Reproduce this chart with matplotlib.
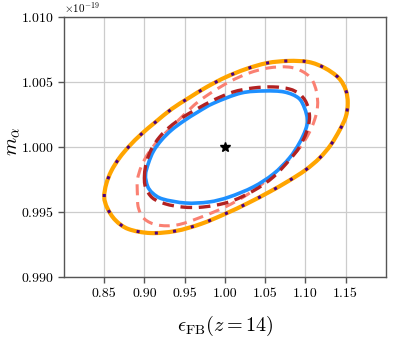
import numpy as np
import matplotlib
matplotlib.use("Agg")
import matplotlib.pyplot as plt
from matplotlib.path import Path
from matplotlib.patches import PathPatch

plt.rcParams['font.family'] = 'serif'
plt.rcParams['font.serif'] = ['cmr10', 'DejaVu Serif']
plt.rcParams['mathtext.fontset'] = 'cm'
plt.rcParams['axes.formatter.use_mathtext'] = True
plt.rcParams['axes.unicode_minus'] = False

SCALE = 1e-19

# Contour traces (x = epsilon_FB, y = m_alpha in units of 1e-19)
outer_x = [0.85, 0.8525, 0.85875, 0.86875, 0.88125, 0.89625, 0.91375, 0.93375, 0.955, 0.9775,
           1.00125, 1.02625, 1.0525, 1.07875, 1.10375, 1.12375, 1.14125, 1.15, 1.1525, 1.15,
           1.1425, 1.13125, 1.1175, 1.1, 1.07875, 1.055, 1.02875, 1.0, 0.97, 0.93875,
           0.9075, 0.88, 0.86375, 0.85375]
outer_y = [0.99615, 0.99715, 0.99815, 0.99915, 1.00008, 1.001, 1.00192, 1.00292, 1.00377, 1.00462,
           1.00538, 1.006, 1.00646, 1.00662, 1.00654, 1.00608, 1.00531, 1.00438, 1.00338, 1.00231,
           1.00131, 1.00015, 0.99915, 0.99823, 0.99738, 0.99654, 0.99569, 0.99485, 0.99408, 0.99354,
           0.99338, 0.99369, 0.99438, 0.99531]

salmon_x = [0.89125, 0.89125, 0.89625, 0.905, 0.9175, 0.9325, 0.94875, 0.96625, 0.98625, 1.0075,
            1.03, 1.05375, 1.07875, 1.095, 1.1075, 1.11375, 1.115, 1.11125, 1.10375, 1.0925,
            1.075, 1.05375, 1.02875, 1.0, 0.9675, 0.94, 0.91625, 0.9, 0.8925]
salmon_y = [0.99631, 0.99746, 0.99854, 0.99954, 1.00054, 1.00146, 1.00246, 1.00346, 1.00431, 1.00508,
            1.00569, 1.00608, 1.00615, 1.00585, 1.00523, 1.00423, 1.00315, 1.00208, 1.001, 0.99992,
            0.99877, 0.99754, 0.99638, 0.99538, 0.99454, 0.994, 0.994, 0.99446, 0.99531]

darkred_x = [0.9, 0.90125, 0.91, 0.92625, 0.9475, 0.9725, 1.005, 1.035, 1.06, 1.08,
             1.0925, 1.10125, 1.105, 1.10125, 1.0925, 1.08, 1.06, 1.035, 1.01, 0.98625,
             0.965, 0.94625, 0.93125, 0.91875, 0.90875, 0.9025]
darkred_y = [0.99785, 0.99692, 0.99608, 0.99562, 0.99538, 0.99538, 0.99577, 0.99662, 0.99769, 0.999,
             1.0, 1.00115, 1.00231, 1.00338, 1.00408, 1.00446, 1.00462, 1.00454, 1.00423, 1.00362,
             1.00292, 1.00223, 1.00154, 1.00077, 0.99985, 0.99885]

blue_x = [0.90125, 0.90375, 0.91, 0.9225, 0.95125, 0.98, 1.005, 1.035, 1.06, 1.08,
          1.0925, 1.1, 1.1025, 1.09875, 1.09125, 1.07375, 1.04875, 1.02, 0.98625, 0.96625,
          0.94875, 0.93375, 0.92125, 0.91125, 0.905]
blue_y = [0.99785, 0.997, 0.99646, 0.996, 0.99569, 0.99577, 0.99615, 0.99692, 0.99792, 0.99915,
          1.00031, 1.00131, 1.00208, 1.003, 1.00377, 1.00423, 1.00431, 1.00415, 1.00338, 1.00269,
          1.002, 1.00131, 1.00054, 0.99969, 0.99877]

fiducial_x = [1.0]
fiducial_y = [1.0]

x_ticks = [0.85, 0.90, 0.95, 1.00, 1.05, 1.10, 1.15]
y_ticks = [0.990, 0.995, 1.000, 1.005, 1.010]


def smooth_closed_path(xs, ys):
    """Closed path through the traced points, drawn with Bezier segments (Catmull-Rom tangents)."""
    P = np.column_stack([np.asarray(xs, float), np.asarray(ys, float) * SCALE])
    sx, sy = 0.4, 0.02 * SCALE
    Q = P / [sx, sy]
    n = len(Q)
    verts = [Q[0]]
    codes = [Path.MOVETO]
    for i in range(n):
        p0, p1, p2, p3 = Q[i - 1], Q[i], Q[(i + 1) % n], Q[(i + 2) % n]
        c1 = p1 + (p2 - p0) / 6.0
        c2 = p2 - (p3 - p1) / 6.0
        verts += [c1, c2, p2]
        codes += [Path.CURVE4] * 3
    verts = np.array(verts) * [sx, sy]
    return Path(verts, codes)


fig = plt.figure(figsize=(3.94, 3.39), dpi=100)
ax = fig.add_axes([0.1624, 0.1829, 0.8173, 0.7670])

ax.grid(True, color='#cccccc', linewidth=0.9, zorder=0)
ax.set_axisbelow(True)

p = smooth_closed_path(outer_x, outer_y)
ax.add_patch(PathPatch(p, fill=False, edgecolor='orange', lw=3.0, zorder=3))
ax.add_patch(PathPatch(p, fill=False, edgecolor='indigo', lw=2.2, linestyle=(0, (1, 5)),
                       capstyle='butt', zorder=4))

p = smooth_closed_path(salmon_x, salmon_y)
ax.add_patch(PathPatch(p, fill=False, edgecolor='#fa8072', lw=2.2, linestyle=(0, (3.5, 2.2)), zorder=3))

p = smooth_closed_path(blue_x, blue_y)
ax.add_patch(PathPatch(p, fill=False, edgecolor='#1e90ff', lw=2.6, zorder=3))

p = smooth_closed_path(darkred_x, darkred_y)
ax.add_patch(PathPatch(p, fill=False, edgecolor='#b22222', lw=2.4, linestyle=(0, (3.5, 2.0)), zorder=4))

ax.plot(fiducial_x, [v * SCALE for v in fiducial_y], marker='*', color='black',
        markersize=7, linestyle='none', zorder=5)

ax.set_xlim(0.8, 1.2)
ax.set_ylim(0.990 * SCALE, 1.010 * SCALE)
ax.set_xticks(x_ticks)
ax.set_xticklabels([f"{t:.2f}" for t in x_ticks])
ax.set_yticks([t * SCALE for t in y_ticks])

ax.tick_params(labelsize=10, length=4, width=1, color='#555555')
for s in ax.spines.values():
    s.set_color('#555555')
    s.set_linewidth(1.0)
ax.yaxis.get_offset_text().set_fontsize(8)

ax.set_xlabel(r'$\epsilon_{\rm FB}(z=14)$', fontsize=14.5, labelpad=10)
ax.set_ylabel(r'$m_\alpha$', fontsize=15)
ax.yaxis.set_label_coords(-0.13, 0.52)

fig.savefig('out.png', dpi=100)
